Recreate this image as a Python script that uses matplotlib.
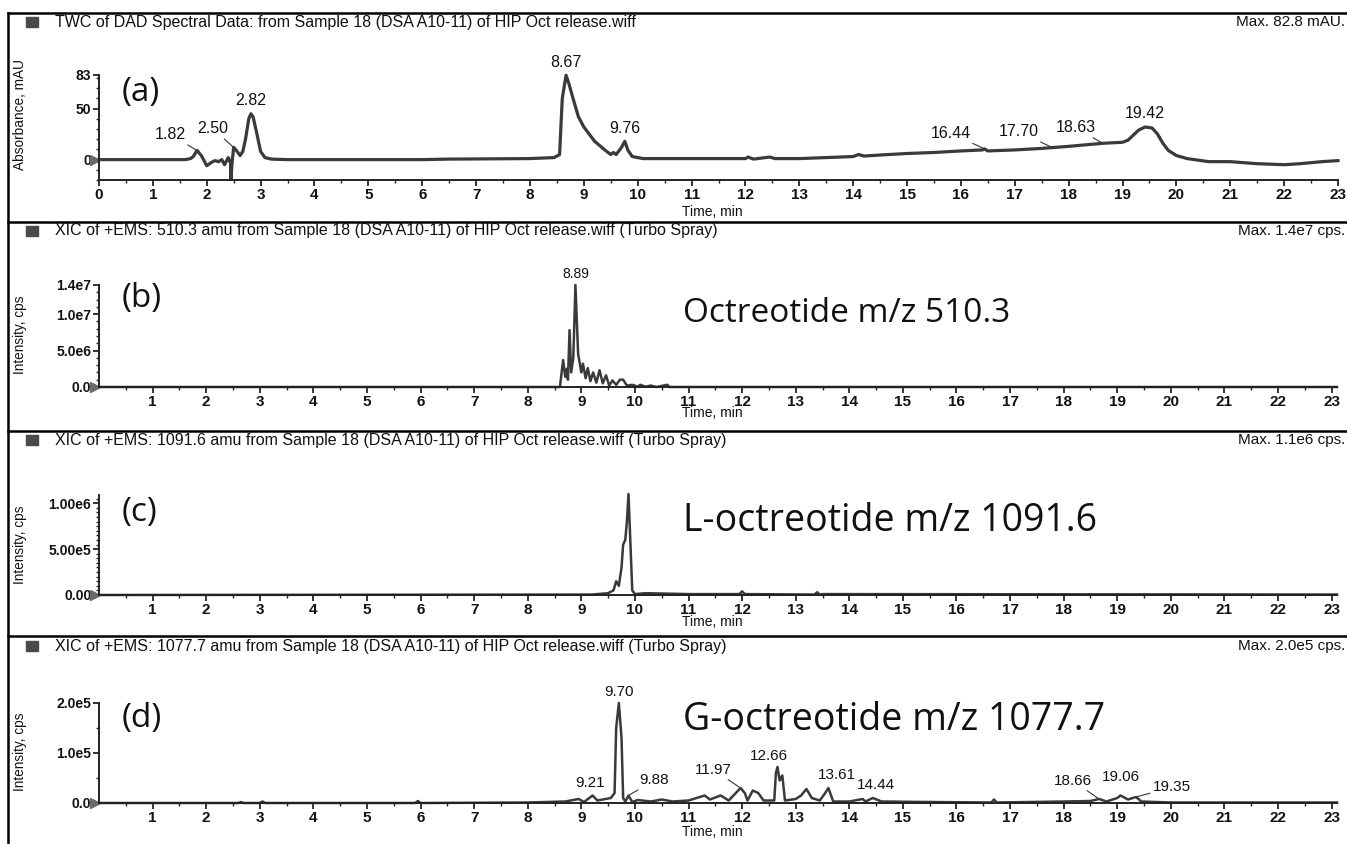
import numpy as np
import matplotlib
matplotlib.use("Agg")
import matplotlib.pyplot as plt
from matplotlib.lines import Line2D
from matplotlib.patches import Rectangle
from matplotlib import transforms

### Data
# (a) DAD trace, mAU
t_a = [0, 1.6, 1.7, 1.75, 1.82, 1.9, 2.0, 2.08, 2.15, 2.22, 2.28, 2.33, 2.40, 2.44, 2.45, 2.47,
       2.50, 2.55, 2.62, 2.67, 2.72, 2.78, 2.82, 2.86, 2.92, 3.0, 3.08, 3.2, 3.5, 6.0, 6.5, 8.0,
       8.45, 8.55, 8.60, 8.67, 8.72, 8.8, 8.9, 9.0, 9.2, 9.4, 9.5, 9.55, 9.6, 9.7, 9.76, 9.82,
       9.9, 10.1, 11.0, 12.0, 12.05, 12.15, 12.3, 12.45, 12.55, 13.0, 13.5, 14.0, 14.1, 14.2,
       14.5, 15.0, 15.5, 16.0, 16.4, 16.44, 16.5, 17.0, 17.5, 18.0, 18.63, 19.0, 19.1, 19.2,
       19.3, 19.42, 19.55, 19.65, 19.75, 19.85, 20.0, 20.2, 20.6, 21.0, 21.5, 22.0, 22.3, 22.7,
       23.0]
v_a = [0, 0, 1, 3, 9, 4, -6, -3, -1, -2, 0, -5, 2, -3, -19, -3,
       12, 9, 4, 8, 20, 40, 45, 42, 28, 8, 2, 0.5, 0, 0, 0.5, 1,
       2, 5, 60, 82.8, 75, 60, 42, 32, 18, 9, 5, 7, 5, 12, 18, 9,
       3, 1, 1, 1, 2.5, 0.5, 1.5, 2.5, 1, 1, 2, 3, 5, 3.5,
       4.5, 6, 7, 8.5, 9.5, 10.5, 8.5, 9.5, 11, 13, 16, 17, 19, 24,
       29, 32, 31, 25, 16, 9, 4, 1, -2, -2, -4, -5, -4, -2,
       -1]
peaks_a = [1.82, 2.50, 2.82, 8.67, 9.76, 16.44, 17.70, 18.63, 19.42]

# (b) XIC 510.3, cps
t_b = [0, 8.60, 8.66, 8.70, 8.73, 8.75, 8.78, 8.81, 8.85, 8.89, 8.94, 8.97, 9.00, 9.03, 9.08,
       9.12, 9.17, 9.22, 9.28, 9.34, 9.40, 9.46, 9.52, 9.58, 9.65, 9.72, 9.78, 9.85, 9.95,
       10.05, 10.10, 10.20, 10.30, 10.40, 10.60, 10.65, 11.0, 23.1]
v_b = [0, 0, 3.7e6, 1.4e6, 2.5e6, 1.0e6, 7.8e6, 2.0e6, 4.0e6, 1.4e7, 4.5e6, 3.3e6, 2.0e6,
       3.2e6, 1.2e6, 2.6e6, 0.8e6, 2.0e6, 0.6e6, 2.3e6, 0.5e6, 1.6e6, 0.2e6, 0.9e6, 0.3e6,
       1.0e6, 1.0e6, 0.2e6, 0.3e6, 0.05e6, 0.3e6, 0.05e6, 0.2e6, 0, 0.3e6, 0, 0, 0]
peaks_b = [8.89]

# (c) XIC 1091.6, cps
t_c = [0, 9.2, 9.3, 9.5, 9.6, 9.65, 9.7, 9.75, 9.78, 9.82, 9.85, 9.88, 9.92, 9.95, 10.0,
       10.2, 11.0, 11.95, 12.0, 12.05, 13.35, 13.4, 13.45, 13.5, 23.1]
v_c = [0, 0.005e6, 0.01e6, 0.02e6, 0.05e6, 0.15e6, 0.10e6, 0.30e6, 0.55e6, 0.60e6,
       0.80e6, 1.10e6, 0.50e6, 0.05e6, 0.01e6, 0.02e6, 0.01e6, 0.01e6, 0.04e6, 0.01e6,
       0.005e6, 0.03e6, 0.005e6, 0.01e6, 0.005e6]
peaks_c = [9.88]

# (d) XIC 1077.7, cps
t_d = [0, 2.6, 2.65, 2.7, 3.0, 3.05, 3.1, 5.9, 5.95, 6.0, 8.0, 8.7, 8.95, 9.05, 9.21, 9.3,
       9.55, 9.62, 9.65, 9.70, 9.75, 9.78, 9.82, 9.88, 9.95, 10.05, 10.3, 10.5, 10.7, 11.0,
       11.3, 11.4, 11.6, 11.75, 11.97, 12.05, 12.1, 12.2, 12.3, 12.4, 12.6, 12.63, 12.66,
       12.7, 12.75, 12.8, 13.0, 13.1, 13.2, 13.3, 13.45, 13.55, 13.61, 13.7, 14.0, 14.25,
       14.3, 14.44, 14.6, 15.5, 16.65, 16.7, 16.75, 18.0, 18.5, 18.66, 18.8, 19.0, 19.06,
       19.2, 19.35, 19.45, 20.0, 23.1]
v_d = [0, 0, 0.02e5, 0, 0, 0.03e5, 0, 0, 0.04e5, 0, 0.01e5, 0.03e5, 0.08e5, 0.02e5,
       0.15e5, 0.05e5, 0.10e5, 0.20e5, 1.5e5, 2.0e5, 1.3e5, 0.10e5, 0.03e5, 0.15e5, 0.02e5,
       0.06e5, 0.03e5, 0.07e5, 0.03e5, 0.05e5, 0.15e5, 0.07e5, 0.15e5, 0.05e5, 0.30e5,
       0.20e5, 0.05e5, 0.25e5, 0.20e5, 0.05e5, 0.05e5, 0.60e5, 0.72e5, 0.45e5, 0.55e5,
       0.05e5, 0.08e5, 0.15e5, 0.28e5, 0.10e5, 0.05e5, 0.20e5, 0.30e5, 0.03e5, 0.03e5,
       0.08e5, 0.03e5, 0.10e5, 0.03e5, 0.02e5, 0.01e5, 0.07e5, 0.01e5, 0.03e5, 0.04e5,
       0.08e5, 0.03e5, 0.10e5, 0.15e5, 0.07e5, 0.12e5, 0.03e5, 0.01e5, 0.01e5]
peaks_d = [9.21, 9.70, 9.88, 11.97, 12.66, 13.61, 14.44, 18.66, 19.06, 19.35]

headers = [
    "TWC of DAD Spectral Data: from Sample 18 (DSA A10-11) of HIP Oct release.wiff",
    "XIC of +EMS: 510.3 amu from Sample 18 (DSA A10-11) of HIP Oct release.wiff (Turbo Spray)",
    "XIC of +EMS: 1091.6 amu from Sample 18 (DSA A10-11) of HIP Oct release.wiff (Turbo Spray)",
    "XIC of +EMS: 1077.7 amu from Sample 18 (DSA A10-11) of HIP Oct release.wiff (Turbo Spray)",
]
max_texts = ["Max. 82.8 mAU.", "Max. 1.4e7 cps.", "Max. 1.1e6 cps.", "Max. 2.0e5 cps."]
ylabels = ["Absorbance, mAU", "Intensity, cps", "Intensity, cps", "Intensity, cps"]
panel_tags = ["(a)", "(b)", "(c)", "(d)"]
compound_names = ["", "Octreotide m/z 510.3", "L-octreotide m/z 1091.6", "G-octreotide m/z 1077.7"]
yticks = [[0, 50, 83], [0, 5e6, 1e7, 1.4e7], [0, 5e5, 1e6], [0, 1e5, 2e5]]
yticklabels = [["0", "50", "83"], ["0.0", "5.0e6", "1.0e7", "1.4e7"],
               ["0.00", "5.00e5", "1.00e6"], ["0.0", "1.0e5", "2.0e5"]]

### Layout (pixels of the 1347x844 picture)
W, H = 1347, 844
fig = plt.figure(figsize=(W / 100, H / 100), dpi=100)
fig.patch.set_facecolor("white")
LINE = "#3a3a3a"
SANS = "Liberation Sans"
BIG = "Open Sans"


def fx(x):
    return x / W


def fy(y):
    return 1 - y / H


def make_ax(x0, x1, ytop, ybot):
    return fig.add_axes([fx(x0), fy(ybot), (x1 - x0) / W, (ybot - ytop) / H])


# separators and frame
for y in [13, 222, 431, 636]:
    fig.add_artist(Line2D([fx(8), 1.0], [fy(y), fy(y)], color="black", lw=1.8))
fig.add_artist(Line2D([fx(8), fx(8)], [fy(13), 0], color="black", lw=1.8))

header_y = [22, 231, 440, 646]
axes_box = [(99, 1338, 75, 180), (99, 1337, 285, 387), (99, 1337, 495, 595), (99, 1337, 703, 803)]
ylims = [(-18.5, 83), (0, 1.4e7), (0, 1.09e6), (0, 2.0e5)]
xlims = [(0, 23), (0, 23.1), (0, 23.1), (0, 23.1)]
time_y = [212, 413, 622, 832]
ylabel_y = [115, 335, 545, 752]
tag_y = [92, 299, 512, 718]
name_y = [0, 313, 521, 720]
name_size = [24, 24, 27, 27]
label_size = [11.5, 10, 11, 11]
line_w = [2.3, 1.8, 1.8, 1.8]
yminor = [10, 1e6, 5e4, 5e4]

traces = [(t_a, v_a, peaks_a), (t_b, v_b, peaks_b), (t_c, v_c, peaks_c), (t_d, v_d, peaks_d)]

# peak label placement: (dx, dy) offsets in points, leader line or not
label_style = {
    1.82: (-8, 6, True), 2.50: (-4, 8, True), 2.82: (0, 4, False), 8.67: (0, 4, False),
    9.76: (0, 4, False), 16.44: (-10, 6, True), 17.70: (-10, 6, True), 18.63: (-5, 6, True),
    19.42: (0, 4, False), 8.89: (0, 3, False), 9.88: (0, 3, False), 9.21: (-2, 4, False),
    9.70: (0, 3, False), 11.97: (-6, 8, True), 12.66: (-6, 3, False), 13.61: (6, 4, False),
    14.44: (2, 4, False), 18.66: (-5, 8, True), 19.06: (0, 8, False), 19.35: (12, 2, True),
}
label_style_d = {9.88: (8, 6, True)}

for i, (t, v, peaks) in enumerate(traces):
    x0, x1, ytop, ybot = axes_box[i]
    ax = make_ax(x0, x1, ytop, ybot)
    ax.plot(t, v, color=LINE, lw=line_w[i], clip_on=False, solid_joinstyle="round")
    ax.set_xlim(*xlims[i])
    ax.set_ylim(*ylims[i])
    for s in ["top", "right"]:
        ax.spines[s].set_visible(False)
    for s in ["left", "bottom"]:
        ax.spines[s].set_linewidth(1.4)
        ax.spines[s].set_color("#222222")
    ax.set_facecolor("none")

    xt = list(range(0, 24)) if i == 0 else list(range(1, 24))
    ax.set_xticks(xt)
    ax.set_xticklabels([str(k) for k in xt], fontsize=11, fontweight="bold", family=SANS)
    ax.set_xticks(np.arange(0.5, 23.1, 1.0), minor=True)
    ax.set_yticks(yticks[i])
    ax.set_yticklabels(yticklabels[i], fontsize=10, fontweight="bold", family=SANS)
    ax.set_yticks(np.arange(ylims[i][0] - ylims[i][0] % yminor[i], ylims[i][1], yminor[i]), minor=True)
    ax.tick_params(axis="both", which="major", length=4, width=1.2, direction="out", pad=1.5, colors="#111111")
    ax.tick_params(axis="both", which="minor", length=2, width=1.0, direction="out", colors="#222222")

    # gray zero marker
    tr = transforms.offset_copy(ax.transData, fig=fig, x=-4, y=0, units="dots")
    ax.plot([0], [0], marker=">", ms=7, color="#6a6a6a", transform=tr, clip_on=False)

    # peak labels
    for p in peaks:
        yv = float(np.interp(p, t, v))
        dx, dy, lead = label_style[p]
        if i == 3 and p in label_style_d:
            dx, dy, lead = label_style_d[p]
        if lead:
            ax.annotate(f"{p:.2f}", xy=(p, yv), xytext=(dx, dy), textcoords="offset points",
                        ha="right" if dx < 0 else "left", va="bottom", fontsize=label_size[i],
                        family=SANS, color="#111111",
                        arrowprops=dict(arrowstyle="-", color="#333333", lw=0.8, shrinkA=0, shrinkB=1))
        else:
            ax.annotate(f"{p:.2f}", xy=(p, yv), xytext=(dx, dy), textcoords="offset points",
                        ha="center", va="bottom", fontsize=label_size[i], family=SANS,
                        color="#111111")

    # header row
    fig.add_artist(Rectangle((fx(26), fy(header_y[i] + 5)), 12 / W, 10 / H, color="#4a4a4a",
                             transform=fig.transFigure))
    fig.text(fx(55), fy(header_y[i]), headers[i], fontsize=11.5, family=SANS,
             va="center", ha="left", color="#111111")
    fig.text(fx(1345), fy(header_y[i]), max_texts[i], fontsize=11, family=SANS,
             va="center", ha="right", color="#111111")
    fig.text(fx(712), fy(time_y[i]), "Time, min", fontsize=10, family=SANS,
             va="center", ha="center", color="#111111")
    fig.text(fx(20), fy(ylabel_y[i]), ylabels[i], fontsize=9.8, family=SANS, rotation=90,
             va="center", ha="center", color="#111111")
    fig.text(fx(122), fy(tag_y[i]), panel_tags[i], fontsize=24, family=BIG,
             va="center", ha="left", color="#111111")
    if compound_names[i]:
        fig.text(fx(683), fy(name_y[i]), compound_names[i], fontsize=name_size[i], family=BIG,
                 va="center", ha="left", color="#111111")

fig.savefig("out.png", dpi=100, facecolor="white")
